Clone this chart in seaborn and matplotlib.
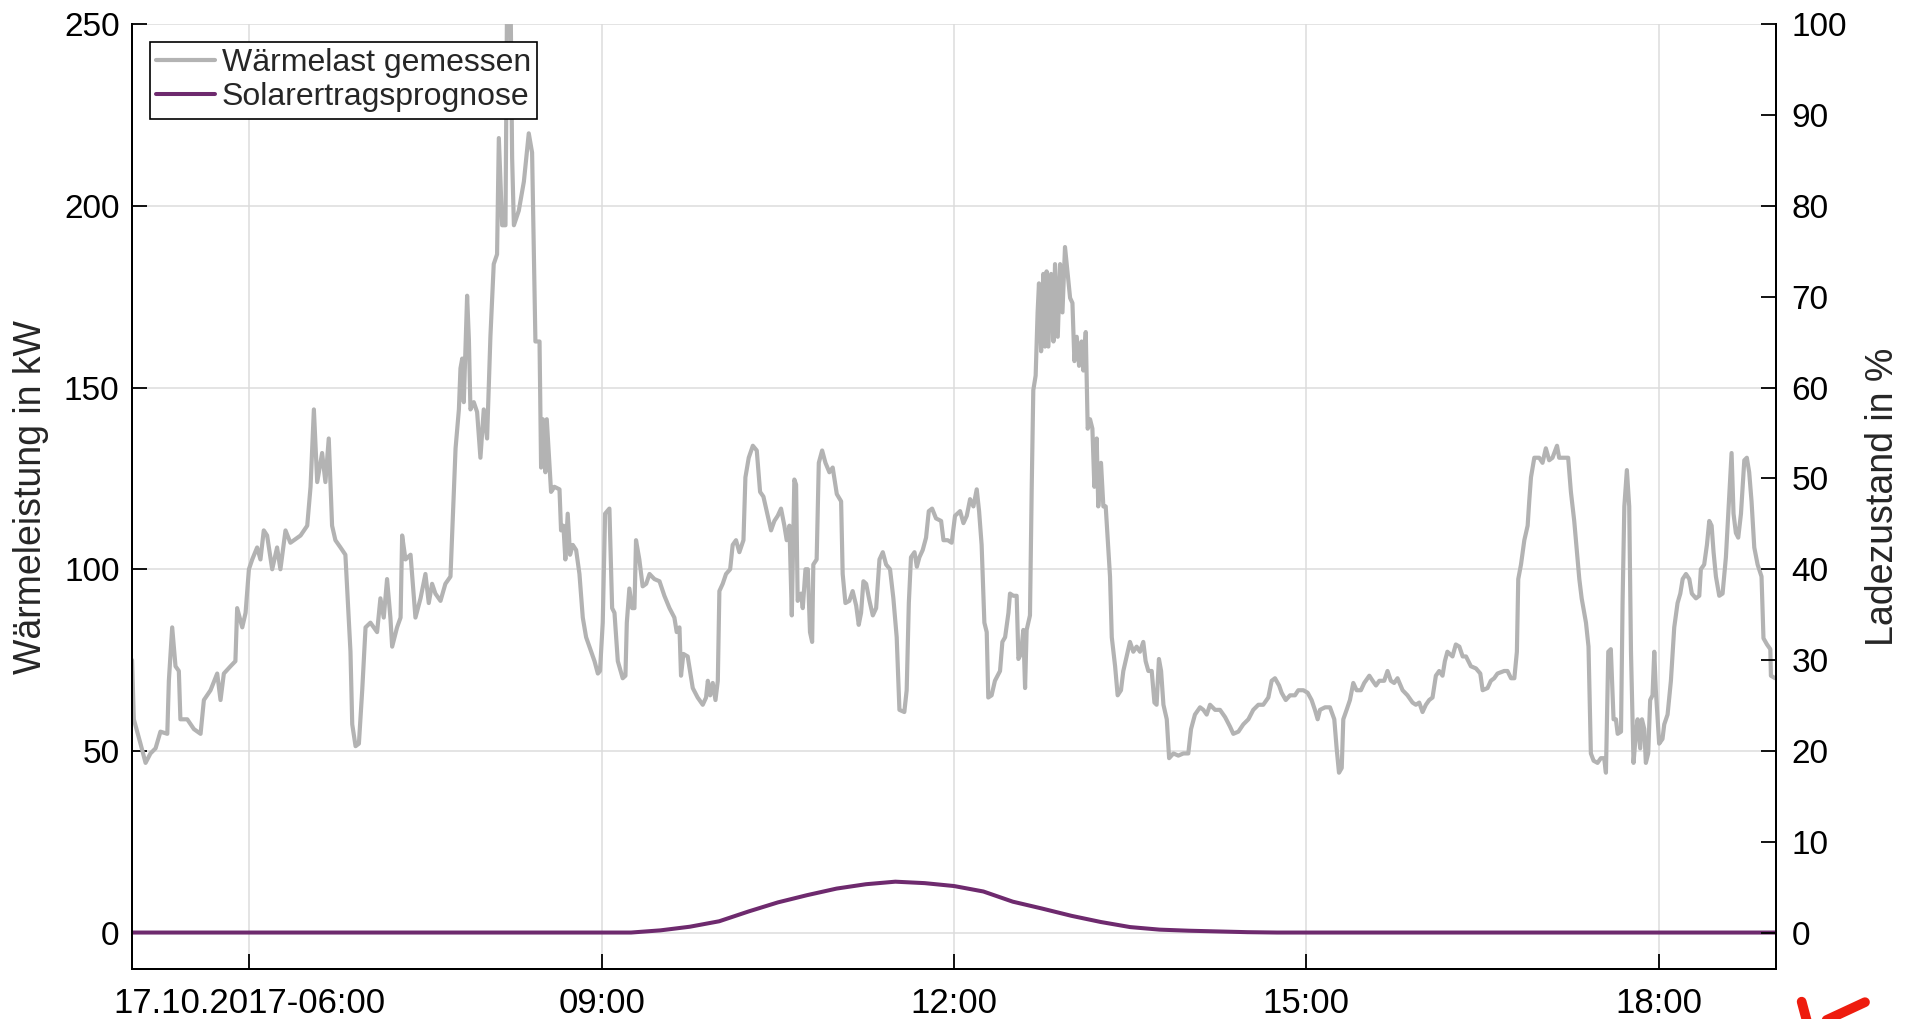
import pandas as pd
import matplotlib
matplotlib.use("Agg")
import matplotlib.pyplot as plt
from matplotlib.lines import Line2D
import seaborn as sns

# Measured heat load, minutes after midnight on 17.10.2017 -> kW
load_minutes = [
    300.0, 300.9, 304.3, 306.9, 309.4, 312.0, 314.5, 318.0, 318.8, 320.5,
    322.2, 323.9, 324.7, 328.2, 331.6, 335.0, 336.7, 340.1, 343.5, 345.2,
    346.9, 350.3, 352.8, 353.7, 356.3, 358.0, 359.7, 361.4, 363.9, 365.6,
    367.3, 369.0, 371.6, 374.1, 375.8, 378.4, 380.9, 386.1, 389.5, 391.2,
    392.9, 394.6, 397.1, 398.8, 400.5, 402.2, 403.9, 406.5, 409.0, 411.6,
    412.5, 414.2, 415.9, 417.6, 419.3, 421.8, 425.2, 426.9, 428.6, 430.3,
    432.0, 432.9, 435.4, 437.2, 438.0, 439.7, 442.3, 444.8, 447.4, 449.9,
    451.6, 453.3, 455.0, 457.6, 460.1, 462.7, 464.1, 465.3, 467.0, 467.8,
    468.7, 469.5, 471.2, 472.1, 472.9, 474.6, 476.3, 478.0, 479.7, 481.4,
    483.1, 484.8, 486.5, 487.4, 489.1, 490.8, 491.7, 493.4, 494.2, 495.1,
    497.6, 500.2, 502.7, 504.4, 506.1,
    508.2, 509.0, 509.9, 511.2, 511.9, 514.1, 515.8, 518.4, 519.2, 520.4,
    521.4, 522.6, 523.8, 525.2, 526.9, 528.6, 530.3, 532.0, 533.7, 536.3,
    538.0, 539.1, 540.5, 541.7, 543.9, 545.3, 546.5, 548.2, 550.7, 552.1,
    552.8, 554.1, 555.5, 556.7, 557.5, 559.2, 560.9, 562.7, 564.4, 566.9,
    569.5, 572.0, 574.6, 577.1, 578.3, 579.7, 580.5, 581.7, 583.9, 586.5,
    589.0, 591.6, 593.3, 594.2, 595.4, 596.7, 598.1, 599.3, 600.1, 601.8,
    603.5, 605.6, 606.9, 608.6, 610.3, 612.4, 613.4, 615.1, 617.2, 619.2,
    620.9, 622.6, 624.3, 626.5, 628.2, 629.9, 631.6, 633.3, 634.5, 635.9,
    637.1, 638.4, 639.3, 640.1, 641.8, 642.7, 644.1, 645.3, 646.4, 647.5,
    648.1, 649.8, 650.9, 652.6, 654.3, 656.3, 658.0, 660.1, 662.3, 663.1,
    664.5, 666.5, 668.2, 670.0, 671.3, 672.5, 673.7, 675.1, 676.8, 678.5,
    680.2, 681.9, 683.6, 685.3, 687.3, 689.0, 690.7, 692.1, 694.6, 695.8,
    696.9, 698.0, 699.8, 701.0, 702.3, 704.0, 705.7, 707.1, 708.8, 710.8,
    713.4, 714.6, 716.8,
    718.8, 720.5, 723.1, 724.8, 726.5, 728.2, 729.9, 731.6, 732.8, 734.1,
    735.5, 736.7, 737.5, 739.2, 740.9, 743.5, 744.7, 746.1, 747.8, 748.6,
    750.3, 752.0, 752.9, 754.2, 755.4, 756.3, 757.1, 758.8, 759.7, 760.5,
    761.7, 762.7, 763.4, 764.5, 765.6, 766.5, 767.3, 768.2, 769.6, 770.8,
    771.6, 773.0, 774.2, 775.4, 776.7, 778.1, 779.3, 780.5, 781.5, 782.7,
    783.9, 785.2, 786.1, 787.3, 788.3, 789.5, 790.7, 791.7, 792.9, 793.7,
    795.1, 796.3, 797.5, 798.9, 799.7, 800.6, 802.3, 803.6, 805.3, 806.5,
    808.2, 809.9, 811.6, 813.3, 815.0, 816.7, 817.9, 819.3, 821.0, 822.4,
    823.5, 824.7, 825.8, 827.0, 828.7, 829.9, 832.1, 834.6, 837.2, 839.7,
    841.1, 843.1, 845.7, 847.4, 849.1, 850.8, 853.4, 855.9, 858.5, 861.0,
    862.7, 865.3, 867.8, 870.4, 872.9, 875.5, 878.0, 880.6, 882.3, 884.0,
    886.1, 887.4, 889.5, 891.7, 894.2, 895.9, 898.5, 900.7, 902.7, 904.4,
    905.8, 907.0, 909.6, 912.1, 914.3, 915.5, 916.7, 918.1, 918.9, 920.6,
    922.3, 924.0, 925.7,
    927.9, 929.6, 932.2, 933.9, 935.6, 937.3, 939.8, 941.5, 943.2, 944.9,
    946.6, 949.2, 951.7, 954.3, 956.0, 957.7, 959.4, 961.1, 962.8, 964.5,
    966.2, 967.9, 969.6, 970.8, 972.1, 974.7, 976.4, 978.2, 979.9, 981.6,
    984.1, 986.7, 988.9, 990.1, 992.6, 994.3, 996.0, 997.7, 1001.1, 1002.8,
    1004.6, 1006.3, 1007.6, 1008.3, 1009.7, 1011.4, 1013.1, 1013.9, 1014.8, 1016.5,
    1019.0, 1020.7, 1022.4, 1024.1, 1025.8, 1028.1, 1029.2, 1032.7, 1033.8, 1035.2,
    1036.9, 1038.6, 1039.5, 1040.7, 1042.9, 1044.2, 1045.4, 1046.8, 1048.8, 1050.5,
    1052.2, 1053.1, 1054.3, 1055.6, 1057.0, 1058.2, 1059.1, 1060.8, 1061.6, 1062.5,
    1063.8, 1065.0, 1065.9, 1067.2, 1068.4, 1069.3, 1070.6, 1071.5, 1072.7, 1073.5,
    1074.7, 1075.7, 1076.9, 1077.8, 1078.6, 1080.3, 1082.0, 1082.9, 1084.6, 1086.3,
    1087.2, 1088.0, 1089.7, 1091.1, 1092.3, 1094.0, 1095.7, 1097.0, 1099.1, 1100.8,
    1101.6, 1103.3, 1104.7, 1105.9, 1107.1, 1108.1, 1109.3, 1111.0, 1112.7, 1114.4,
    1115.6, 1117.3, 1118.3, 1119.5, 1120.7, 1122.1, 1123.8, 1125.1, 1126.3, 1127.5,
    1128.9, 1130.6, 1132.6, 1133.6, 1135.4, 1137.1, 1137.4, 1139.6,
]
load_kw = [
    75, 58.7, 52, 46.7, 49.3, 50.7, 55.3, 54.7, 69.3, 84,
    73.3, 72, 58.7, 58.7, 56, 54.7, 64, 66.7, 71.3, 64,
    71.3, 73.3, 74.7, 89.3, 84, 88, 100, 102.7, 106, 102.7,
    110.7, 109.3, 100, 106, 100, 110.7, 107.3, 109.3, 112, 122.7,
    144, 124, 132, 124, 136, 112, 108, 106, 104, 77.3,
    57.3, 51.3, 52, 66.7, 84, 85.3, 82.7, 92, 86.7, 97.3,
    86.7, 78.7, 84, 86.7, 109.3, 102.7, 104, 86.7, 92, 98.7,
    90.7, 96, 93.3, 91.3, 96, 98, 117.3, 133.3, 144, 155.3,
    158, 146, 175.3, 163.3, 144, 146, 143.3, 130.7, 144, 136,
    164, 184, 186.7, 218.7, 194.7, 194.7, 264, 258, 213.3, 194.7,
    198.7, 206.7, 220, 214.7, 162.7,
    162.7, 128, 141.3, 126.7, 141.3, 121.3, 122.7, 122, 110.7, 112,
    102.7, 115.3, 104, 106.7, 105.3, 98.7, 86.7, 81.3, 78.7, 74.7,
    71.3, 72, 85.3, 115.3, 116.7, 89.3, 88, 74.7, 70, 70.7,
    85.3, 94.7, 89.3, 89.3, 108, 102.7, 95.3, 96, 98.7, 97.3,
    96.7, 92.7, 89.3, 86.7, 82.7, 84, 70.7, 76.7, 76, 67.3,
    64.7, 62.7, 64.7, 69.3, 65.3, 68.7, 64, 69.3, 94, 96,
    98.7, 100, 106.7, 108, 104.7, 108, 125.3, 130.7, 134, 132.7,
    121.3, 120, 116, 110.7, 113.3, 114.7, 116.7, 112, 108, 112,
    87.3, 124.7, 123.3, 91.3, 93.3, 89.3, 100, 100, 82.7, 80,
    101.3, 102.7, 129.3, 132.7, 129.3, 126.7, 128, 120.7, 118.7, 98.7,
    90.7, 91.3, 94, 90, 84.7, 88, 96.7, 96, 91.3, 87.3,
    89.3, 102.7, 104.7, 101.3, 100, 92, 81.3, 61.3, 60.7, 66.7,
    90.7, 103.3, 104.7, 100.7, 103.3, 105.3, 108.7, 116, 116.7, 114,
    113.3, 108, 108,
    107.3, 114.7, 116, 112.7, 114.7, 119.3, 117.3, 122, 116, 106.7,
    85.3, 82.7, 64.7, 65.3, 69.3, 72, 80, 81.3, 88, 93.3,
    92.7, 92.7, 75.3, 76.7, 83.3, 67.3, 83.3, 87.3, 122.7, 149.3,
    153.3, 170.7, 178.7, 160, 181.3, 161.3, 182, 161.3, 181.3, 162.7,
    184, 164, 184, 170.7, 188.7, 181.3, 174.7, 173.3, 157.3, 164,
    156, 162.7, 154.7, 165.3, 138.7, 141.3, 138.7, 122.7, 136, 117.3,
    129.3, 117.3, 117.3, 104.7, 98, 81.3, 73.3, 65.3, 66.7, 72,
    76, 80, 77.3, 78.7, 77.3, 80, 74.7, 72, 72, 63.3,
    62.7, 75.3, 72, 62.7, 58.7, 48, 49.3, 48.7, 49.3, 49.3,
    56, 60, 62, 61.3, 60, 62.7, 61.3, 61.3, 59.3, 56.7,
    54.7, 55.3, 57.3, 58.7, 61.3, 62.7, 62.7, 64.7, 69.3, 70,
    68, 66, 64, 65.3, 65.3, 66.7, 66.7, 66, 64, 61.3,
    58.7, 61.3, 62, 62, 58.7, 50.7, 44, 45.3, 58.7, 61.3,
    64, 68.7, 66.7,
    66.7, 68.7, 70.7, 69.3, 68, 69.3, 69.3, 72, 69.3, 68.7,
    70, 66.7, 65.3, 63.3, 62.7, 63.3, 60.7, 62.7, 64, 64.7,
    70.7, 72, 70.7, 74.7, 77.3, 76, 79.3, 78.7, 76, 76,
    73.3, 72.7, 71.3, 66.7, 67.3, 69.3, 70, 71.3, 72, 72,
    70, 70, 77.3, 97.3, 101.3, 108, 112, 118.7, 125.3, 130.7,
    130.7, 129.3, 133.3, 130, 130.7, 134, 130.7, 130.7, 130.7, 121.3,
    113.3, 102.7, 97.3, 92, 85.3, 78.7, 49.3, 47.3, 46.7, 48,
    48, 44, 77.3, 78, 58.7, 58.7, 54.7, 55.3, 90.7, 117.3,
    127.3, 117.3, 77.3, 46.7, 54.7, 58.7, 50.7, 58.7, 56, 46.7,
    49.3, 64, 65.3, 77.3, 66.7, 52, 53.3, 57.3, 60, 69.3,
    77.3, 84, 90.7, 93.3, 97.3, 98.7, 97.3, 93.3, 92, 92.7,
    100, 101.3, 106.7, 113.3, 112, 104.7, 98, 92.7, 93.3, 103.3,
    115.3, 132, 115.3, 110, 108.7, 115.3, 130, 130.7, 126.7, 118.7,
    106, 101.3, 98, 81, 79.3, 78, 70.7, 70,
]

# Solar yield forecast, hour of day -> kW
solar_hours = [5.0, 9.25, 9.5, 9.75, 10.0, 10.25, 10.5, 10.75, 11.0, 11.25,
               11.5, 11.75, 12.0, 12.25, 12.5, 12.75, 13.0, 13.25, 13.5, 13.75,
               14.0, 14.25, 14.5, 14.75, 19.0]
solar_kw = [0, 0, 0.6, 1.6, 3.1, 5.8, 8.3, 10.3, 12.1, 13.3,
            14.0, 13.6, 12.8, 11.3, 8.5, 6.6, 4.6, 2.9, 1.5, 0.8,
            0.5, 0.3, 0.1, 0, 0]

xtick_hours = [6, 9, 12, 15, 18]
xtick_labels = ["17.10.2017-06:00", "09:00", "12:00", "15:00", "18:00"]
left_ticks = [0, 50, 100, 150, 200, 250]
right_ticks = list(range(0, 101, 10))

day = pd.Timestamp("2017-10-17")
load = pd.DataFrame({"time": day + pd.to_timedelta(load_minutes, unit="min"),
                     "kw": load_kw})
solar = pd.DataFrame({"time": day + pd.to_timedelta(solar_hours, unit="h"),
                      "kw": solar_kw})

sns.set_theme(style="ticks")
plt.rcParams["font.family"] = ["Liberation Sans", "DejaVu Sans"]

fig = plt.figure(figsize=(19.14, 10.19), dpi=100)
ax = fig.add_axes([0.069, 0.0492, 0.8589, 0.9269])

sns.lineplot(data=load, x="time", y="kw", ax=ax, color="#B3B3B3", lw=3.0,
             estimator=None, label="Wärmelast gemessen")
sns.lineplot(data=solar, x="time", y="kw", ax=ax, color="#6E2A6E", lw=2.9,
             estimator=None, label="Solarertragsprognose")

ax.set_xlim(day + pd.Timedelta(hours=5), day + pd.Timedelta(hours=19))
ax.set_ylim(-10, 250)
ax.set_xticks([day + pd.Timedelta(hours=h) for h in xtick_hours])
ax.set_xticklabels(xtick_labels)
ax.set_yticks(left_ticks)
ax.grid(True, color="#DCDCDC", lw=1.1)
ax.set_axisbelow(True)
ax.set_xlabel("")
ax.set_ylabel("Wärmeleistung in kW", fontsize=27)
ax.yaxis.set_label_coords(-0.0505, 0.5)

ax.tick_params(axis="both", direction="in", length=11, width=1.3,
               labelsize=24, colors="black")
ax.tick_params(axis="x", pad=13, bottom=True, top=False, labelsize=25)
ax.tick_params(axis="y", pad=9, left=True, right=False)
ax.spines["top"].set_visible(False)
for side in ("left", "bottom", "right"):
    ax.spines[side].set_color("black")
    ax.spines[side].set_linewidth(1.4)

ax2 = ax.twinx()
ax2.set_ylim(-4, 100)
ax2.set_yticks(right_ticks)
ax2.grid(False)
ax2.set_ylabel("Ladezustand in %", fontsize=27)
ax2.yaxis.set_label_coords(1.0541, 0.5)
ax2.tick_params(axis="y", direction="in", length=11, width=1.3, labelsize=24,
                pad=11, right=True, left=False, colors="black")
ax2.spines["top"].set_visible(False)
for side in ("left", "bottom", "right"):
    ax2.spines[side].set_color("black")
    ax2.spines[side].set_linewidth(1.4)

leg = ax.legend(loc="upper left", fontsize=23, frameon=True, fancybox=False,
                edgecolor="black", framealpha=1, borderaxespad=0.55,
                handlelength=1.85, handletextpad=0.2, labelspacing=0.12,
                borderpad=0.2)
leg.get_frame().set_linewidth(1.2)
leg.set_zorder(10)

# red logo fragment in the lower right corner
for xs, ys in (([0.9413, 0.9446], [0.0170, -0.006]),
               ([0.9744, 0.9486], [0.0165, -0.006])):
    fig.add_artist(Line2D(xs, ys, transform=fig.transFigure, color="#EE1C0E",
                          lw=7, solid_capstyle="round"))

fig.savefig("out.png", dpi=100)
